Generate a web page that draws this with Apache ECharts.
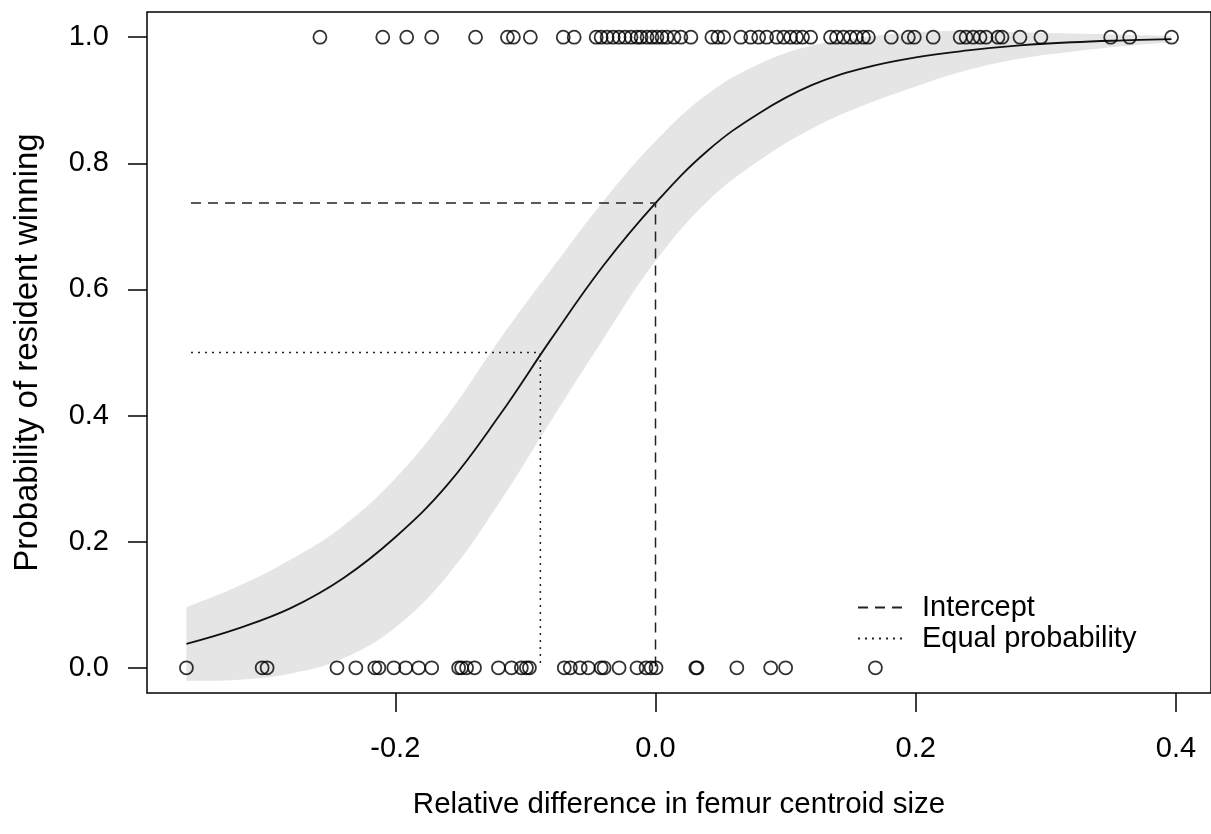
<!DOCTYPE html>
<html>
<head>
<meta charset="utf-8">
<script src="https://cdn.jsdelivr.net/npm/echarts@6/dist/echarts.min.js"></script>
<style>
html,body{margin:0;padding:0;background:#fff;}
#chart{width:1211px;height:834px;}
</style>
</head>
<body>
<div id="chart"></div>
<script>
// ---- data ----
const winsX = [-0.2579,-0.2096,-0.1912,-0.1720,-0.1383,-0.1138,-0.1092,-0.0962,-0.0709,-0.0625,
  -0.0456,-0.0418,-0.0372,-0.0326,-0.0280,-0.0234,-0.0188,-0.0142,-0.0111,-0.0065,-0.0027,0.0011,
  0.0050,0.0088,0.0142,0.0195,0.0272,0.0433,0.0479,0.0525,0.0655,0.0732,0.0793,0.0854,0.0931,
  0.0985,0.1038,0.1084,0.1130,0.1192,0.1345,0.1391,0.1444,0.1498,0.1544,0.1598,0.1636,0.1812,
  0.1943,0.1989,0.2134,0.2341,0.2387,0.2441,0.2494,0.2540,0.2632,0.2663,0.2801,0.2962,0.3498,
  0.3644,0.3966];
const lossesX = [-0.3605,-0.3023,-0.2985,-0.2448,-0.2303,-0.2157,-0.2126,-0.2011,-0.1920,-0.1820,
  -0.1720,-0.1513,-0.1490,-0.1452,-0.1391,-0.1207,-0.1107,-0.1031,-0.0992,-0.0969,-0.0701,-0.0655,
  -0.0579,-0.0517,-0.0418,-0.0395,-0.0280,-0.0142,-0.0073,-0.0034,0.0004,0.0310,0.0318,0.0625,
  0.0885,0.1000,0.1690];

// fitted curve and confidence band, read at regular steps of the x axis
const gridX  = [-0.3605,-0.32,-0.28,-0.24,-0.20,-0.16,-0.12,-0.08,-0.04,0.00,
  0.04,0.08,0.12,0.16,0.20,0.24,0.28,0.32,0.36,0.3965];
const curveP = [0.038,0.063,0.095,0.142,0.207,0.290,0.400,0.522,0.638,0.737,
  0.820,0.880,0.924,0.951,0.968,0.979,0.987,0.992,0.995,0.997];
const upperP = [0.096,0.130,0.172,0.225,0.300,0.400,0.520,0.632,0.740,0.835,
  0.910,0.958,0.987,1.000,1.008,1.010,1.008,1.006,1.004,1.002];
const lowerP = [-0.021,-0.019,-0.009,0.015,0.064,0.146,0.262,0.393,0.522,0.645,
  0.740,0.805,0.855,0.892,0.922,0.948,0.966,0.977,0.986,0.992];

const xTicks = [-0.2, 0.0, 0.2, 0.4];
const yTicks = [0.0, 0.2, 0.4, 0.6, 0.8, 1.0];
const refStartX = -0.357;
const interceptX = 0.0, interceptP = 0.737;
const equalX = -0.0885, equalP = 0.5;
const xLabel = 'Relative difference in femur centroid size';
const yLabel = 'Probability of resident winning';
const legendNames = ['Intercept', 'Equal probability'];

// ---- chart ----
const FONT = "'Liberation Sans', Arial, Helvetica, sans-serif";
const chart = echarts.init(document.getElementById('chart'), null, {renderer: 'canvas'});

const xMin = -0.3908, xMax = 0.4269;
const tickStyle = {show: true, length: 19, inside: false, lineStyle: {color: '#000', width: 1.5}};

const option = {
  animation: false,
  backgroundColor: '#fff',
  textStyle: {fontFamily: FONT},
  grid: {left: 147, top: 12, width: 1066, height: 681, show: true, borderColor: '#000', borderWidth: 1.5, containLabel: false},
  legend: {
    orient: 'vertical', left: 857, top: 593, padding: 0,
    itemWidth: 48, itemHeight: 14, itemGap: 2,
    itemStyle: {opacity: 0},
    textStyle: {fontFamily: FONT, fontSize: 29, color: '#000', padding: [0, 0, 0, 11]},
    data: legendNames
  },
  xAxis: {
    type: 'value', min: xMin, max: xMax,
    axisLine: {show: false, onZero: false},
    splitLine: {show: false},
    name: xLabel, nameLocation: 'middle', nameGap: 97,
    nameTextStyle: {fontFamily: FONT, fontSize: 29.5, color: '#000'},
    axisTick: Object.assign({customValues: xTicks}, tickStyle),
    axisLabel: {customValues: xTicks, margin: 41, fontFamily: FONT, fontSize: 29, color: '#000',
      formatter: v => v.toFixed(1)}
  },
  yAxis: {
    type: 'value', min: -0.04, max: 1.04,
    axisLine: {show: false, onZero: false},
    splitLine: {show: false},
    name: yLabel, nameLocation: 'middle', nameGap: 103,
    nameTextStyle: {fontFamily: FONT, fontSize: 33, color: '#000'},
    axisTick: Object.assign({customValues: yTicks}, tickStyle),
    axisLabel: {customValues: yTicks, margin: 38, fontFamily: FONT, fontSize: 29, color: '#000',
      formatter: v => v.toFixed(1)}
  },
  series: [
    {
      type: 'custom', name: 'band', silent: true, z: 1,
      data: [[0, 0]],
      encode: {x: 0, y: 1},
      renderItem: function (params, api) {
        if (params.dataIndex !== 0) return null;
        const n = gridX.length;
        const pts = [];
        // duplicated end points keep the band's ends straight and sharp
        for (let i = 0; i < n; i++) {
          const c = api.coord([gridX[i], upperP[i]]);
          pts.push(c);
          if (i === 0 || i === n - 1) pts.push(c.slice());
        }
        for (let i = n - 1; i >= 0; i--) {
          const c = api.coord([gridX[i], lowerP[i]]);
          pts.push(c);
          if (i === 0 || i === n - 1) pts.push(c.slice());
        }
        return {type: 'polygon', shape: {points: pts, smooth: 0.4}, style: {fill: '#e5e5e5', stroke: null}};
      }
    },
    {
      type: 'line', name: 'fit', z: 3, symbol: 'none', smooth: 0.4,
      data: gridX.map((x, i) => [x, curveP[i]]),
      lineStyle: {color: '#111', width: 1.8}
    },
    {
      type: 'line', name: legendNames[0], z: 3, symbol: 'none',
      data: [[refStartX, interceptP], [interceptX, interceptP], [interceptX, 0]],
      itemStyle: {color: '#222'},
      lineStyle: {color: '#222', width: 1.5, type: [10, 7]}
    },
    {
      type: 'line', name: legendNames[1], z: 3, symbol: 'none',
      data: [[refStartX, equalP], [equalX, equalP], [equalX, 0]],
      itemStyle: {color: '#222'},
      lineStyle: {color: '#222', width: 1.5, type: [2, 5]}
    },
    {
      type: 'scatter', name: 'wins', z: 4, symbol: 'circle', symbolSize: 13,
      data: winsX.map(x => [x, 1]),
      itemStyle: {color: 'rgba(0,0,0,0)', borderColor: '#000', borderWidth: 1.8}
    },
    {
      type: 'scatter', name: 'losses', z: 4, symbol: 'circle', symbolSize: 13,
      data: lossesX.map(x => [x, 0]),
      itemStyle: {color: 'rgba(0,0,0,0)', borderColor: '#000', borderWidth: 1.8}
    }
  ]
};
chart.setOption(option);
</script>
</body>
</html>
